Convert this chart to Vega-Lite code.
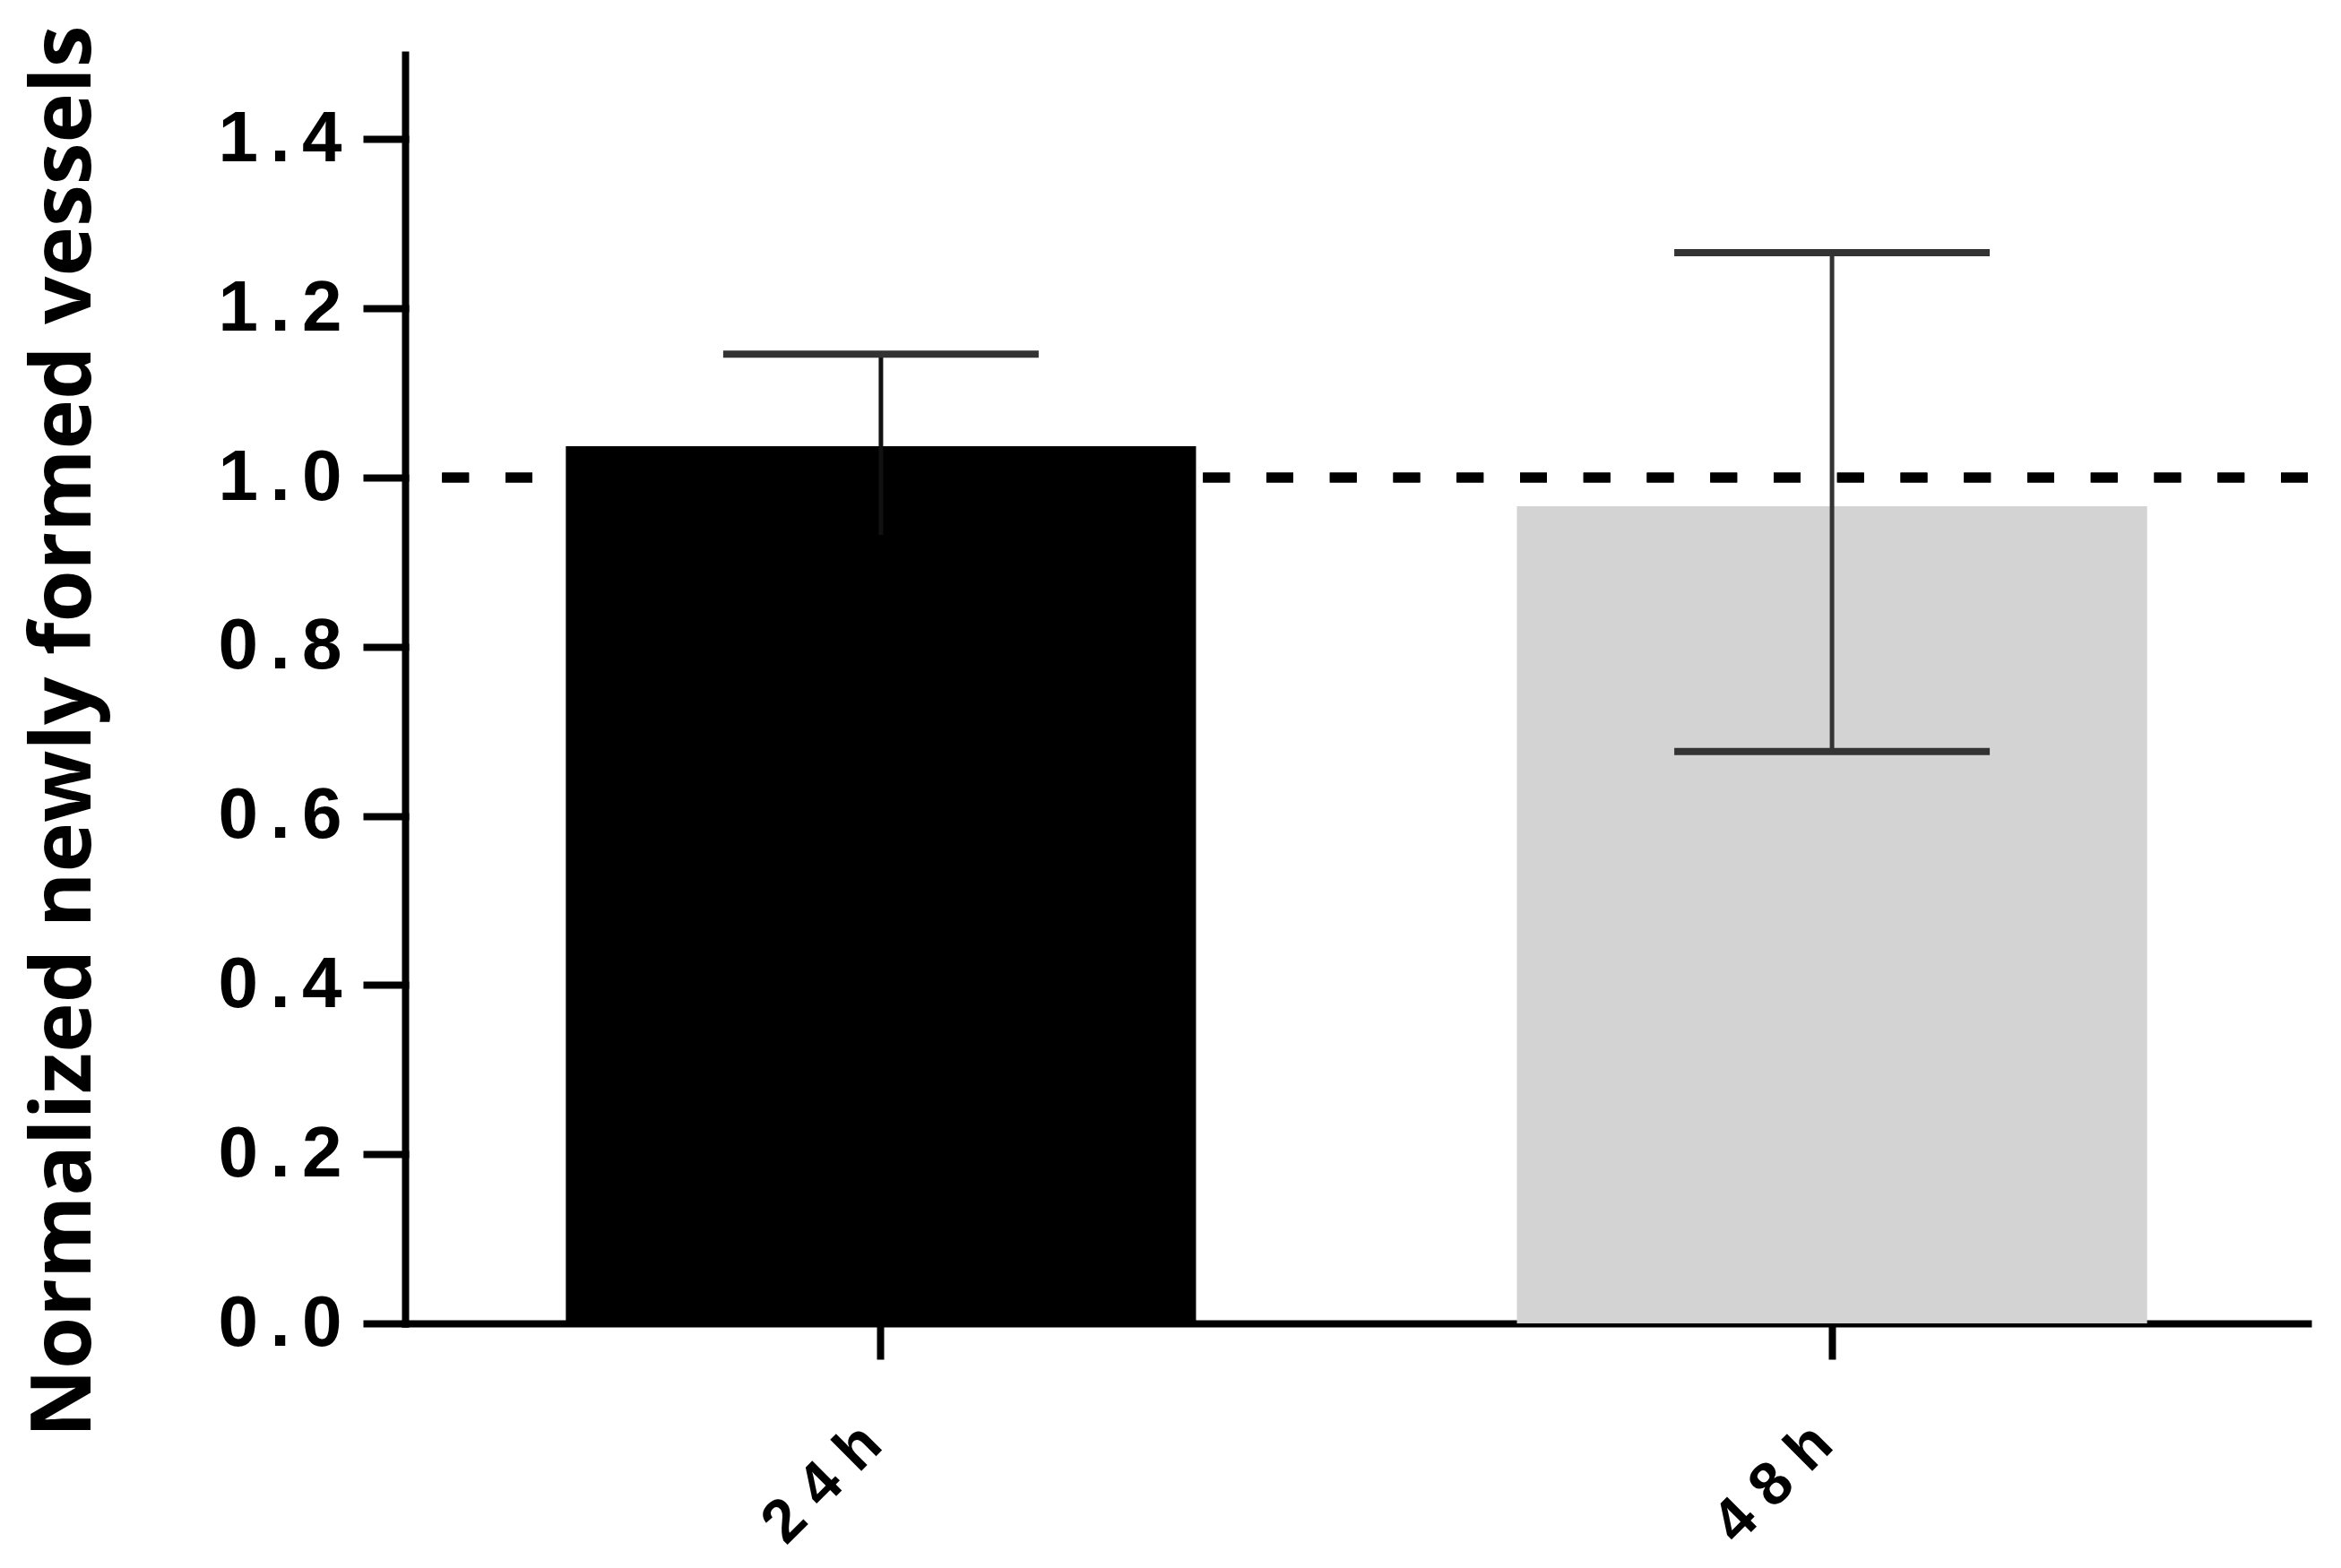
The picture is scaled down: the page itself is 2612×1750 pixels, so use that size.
{
  "$schema": "https://vega.github.io/schema/vega-lite/v6.json",
  "autosize": {"type": "none"},
  "padding": {"left": 452, "top": 61, "right": 37, "bottom": 273},
  "width": 2123,
  "height": 1416,
  "background": "white",
  "config": {
    "view": {"stroke": null},
    "axisY": {
      "labelFont": "Liberation Sans", "labelFontWeight": "bold", "labelFontSize": 80, "labelColor": "black",
      "labelPadding": 28, "labelBaseline": "middle",
      "tickSize": 43, "tickWidth": 8, "tickColor": "black", "tickCap": "square",
      "domainColor": "black", "domainWidth": 8, "domainCap": "square", "grid": false,
      "titleFont": "Open Sans", "titleFontWeight": "bold", "titleFontSize": 94, "titleColor": "black",
      "titleX": -352, "titleY": 755, "titleAngle": -90, "titleAlign": "center", "titleBaseline": "alphabetic"
    },
    "axisX": {
      "labelFont": "Liberation Sans", "labelFontWeight": "bold", "labelFontSize": 68, "labelColor": "black",
      "labelAngle": -45, "labelAlign": "right", "labelBaseline": "middle", "labelPadding": 84, "labelOffset": -10,
      "tickSize": 40, "tickWidth": 8, "tickColor": "black",
      "domainColor": "black", "domainWidth": 8, "domainCap": "square", "grid": false
    }
  },
  "data": {
    "values": [
      {"time": "24 h", "mean": 1.037, "lower": 0.928, "upper": 1.146},
      {"time": "48 h", "mean": 0.966, "lower": 0.676, "upper": 1.266}
    ]
  },
  "layer": [
    {
      "mark": {"type": "rule", "strokeDash": [30, 40.75], "strokeWidth": 11, "color": "black"},
      "encoding": {
        "y": {"datum": 1, "type": "quantitative", "title": "Normalized newly formed vessels"}
      }
    },
    {
      "mark": {"type": "bar"},
      "encoding": {
        "x": {
          "field": "time", "type": "nominal", "title": null,
          "scale": {"paddingInner": 0.3374, "paddingOuter": 0.169},
          "axis": {"labelExpr": "join(split(replace(datum.label, ' ', ''), ''), '\u2009\u200a')"}
        },
        "y": {
          "field": "mean", "type": "quantitative", "title": "Normalized newly formed vessels",
          "scale": {"domain": [0, 1.5], "nice": false},
          "axis": {"values": [0, 0.2, 0.4, 0.6, 0.8, 1, 1.2, 1.4], "format": ".1f", "labelExpr": "join(split(datum.label, ''), '\u200a\u200a')"}
        },
        "color": {"field": "time", "type": "nominal", "scale": {"range": ["#000000", "#d3d3d3"]}, "legend": null}
      }
    },
    {
      "mark": {"type": "rule", "strokeWidth": 5, "opacity": 1},
      "encoding": {
        "x": {"field": "time", "type": "nominal", "title": null},
        "y": {"field": "lower", "type": "quantitative", "title": "Normalized newly formed vessels"},
        "y2": {"field": "upper"},
        "color": {"condition": {"test": "datum.time == '24 h'", "value": "#111111"}, "value": "#333333"}
      }
    },
    {
      "mark": {"type": "tick", "thickness": 8, "size": 352, "opacity": 1},
      "encoding": {
        "x": {"field": "time", "type": "nominal", "title": null},
        "y": {"field": "upper", "type": "quantitative", "title": "Normalized newly formed vessels"},
        "color": {"value": "#333333"}
      }
    },
    {
      "mark": {"type": "tick", "thickness": 8, "size": 352, "opacity": 1},
      "encoding": {
        "x": {"field": "time", "type": "nominal", "title": null},
        "y": {"field": "lower", "type": "quantitative", "title": "Normalized newly formed vessels"},
        "color": {"condition": {"test": "datum.time == '24 h'", "value": "#000000"}, "value": "#333333"}
      }
    }
  ]
}
